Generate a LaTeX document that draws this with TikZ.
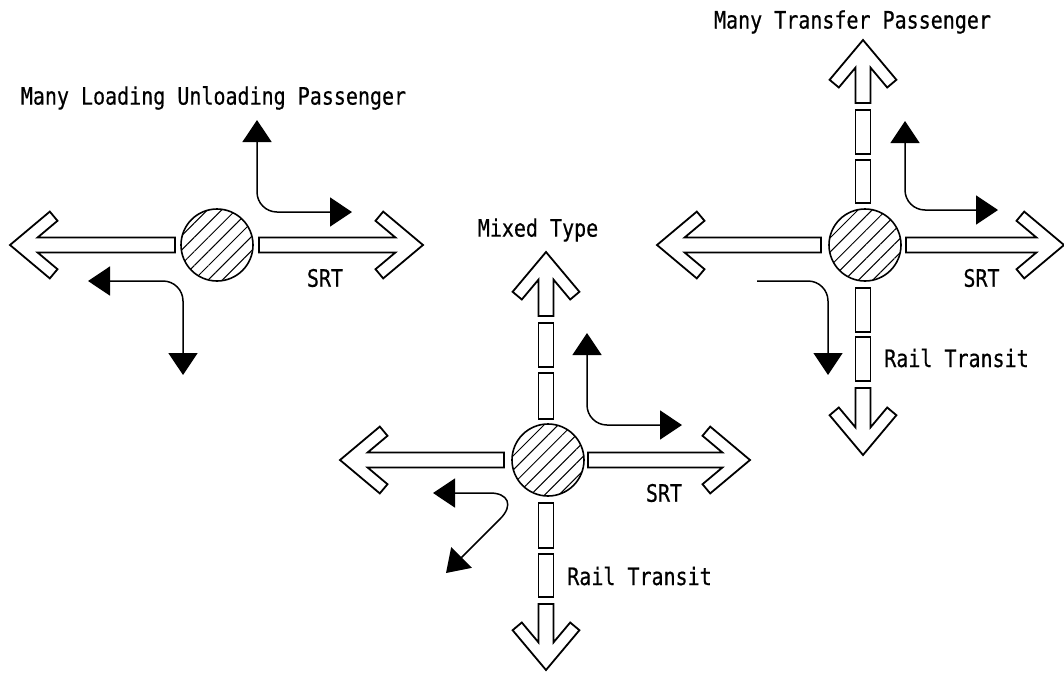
\documentclass[tikz,border=0pt]{standalone}
\usepackage{fontspec}
\usepackage{graphicx}
\newfontfamily\labelfont[FakeBold=0.6]{DejaVu Sans Mono}
\usetikzlibrary{arrows.meta,patterns.meta}
\newcommand\lbl[1]{\scalebox{1}[1.2]{\labelfont\fontsize{20}{20}\selectfont #1}}
% open arrow: cx, cy, angle, shaft start, tip distance
\newcommand\bigarrow[5]{%
\begin{scope}[shift={(#1,#2)},rotate=#3]
\draw[bigarr] (#4,7.5) -- ({#5-27.6},7.5) -- ({#5-47.5},24.2) -- ({#5-39.8},33.4) -- (#5,0)
 -- ({#5-39.8},-33.4) -- ({#5-47.5},-24.2) -- ({#5-27.6},-7.5) -- (#4,-7.5) -- cycle;
\end{scope}}
% rail segment: cx, cy, angle, from, to
\newcommand\railseg[5]{%
\begin{scope}[shift={(#1,#2)},rotate=#3]
\draw[bigarr] (#4,7.5) rectangle (#5,-7.5);
\end{scope}}
\begin{document}
\begin{tikzpicture}[x=1pt,y=-1pt,
  bigarr/.style={line width=1.8pt},
  hub/.style={circle,draw,line width=1.6pt,minimum size=72pt,inner sep=0pt,
    pattern={Lines[angle=45,distance=10pt,line width=1pt]}},
  smallarr/.style={line width=1.5pt,rounded corners=20pt,
    {Triangle[length=22pt,width=29pt]}-{Triangle[length=22pt,width=29pt]}},
  smallend/.style={line width=1.5pt,rounded corners=20pt,
    -{Triangle[length=22pt,width=29pt]}},
  txt/.style={inner sep=0pt}]
\useasboundingbox (0,0) rectangle (1064,672);

% ---------- Diagram 1 ----------
\bigarrow{217}{245}{0}{42}{206}
\bigarrow{217}{245}{180}{42}{207}
\node[hub] (c1) at (217,245) {};
\draw[smallarr] (257,120) |- (352,212);
\draw[smallarr] (88,281) -| (183,375);
\node[txt] (t1) at (213.5,98) {\lbl{Many Loading Unloading Passenger}};
\node[txt] (s1) at (325,278) {\lbl{SRT}};

% ---------- Diagram 2 ----------
\bigarrow{546}{460}{0}{42}{204}
\bigarrow{546}{460}{180}{42}{206}
\bigarrow{546}{460}{90}{144}{208}
\railseg{546}{460}{90}{41}{87}
\railseg{546}{460}{90}{93}{137}
\railseg{546}{460}{-90}{43}{88}
\railseg{546}{460}{-90}{94}{137}
\bigarrow{546}{460}{-90}{144}{210}
\node[hub] (c2) at (548,460) {};
\draw[smallarr] (587,333) |- (682,425);
\draw[line width=1.5pt,{Triangle[length=22pt,width=29pt]}-{Triangle[length=22pt,width=29pt]}]
  (433,493) -- (490,493) .. controls (508,493) and (514,505) .. (500,519) -- (446,573);
\node[txt] (t2) at (538,230) {\lbl{Mixed Type}};
\node[txt] (s2) at (664,493) {\lbl{SRT}};
\node[txt] (r2) at (639.5,576) {\lbl{Rail Transit}};

% ---------- Diagram 3 ----------
\bigarrow{863}{245}{0}{43}{201}
\bigarrow{863}{245}{180}{42}{206}
\bigarrow{863}{245}{90}{142}{205}
\railseg{863}{245}{90}{42}{85}
\railseg{863}{245}{90}{91}{135}
\railseg{863}{245}{-90}{43}{87}
\railseg{863}{245}{-90}{92}{136}
\bigarrow{863}{245}{-90}{143}{210}
\node[hub] (c3) at (865,245) {};
\draw[smallarr] (905,121) |- (998,210);
\draw[smallend] (757,281) -| (828,375);
\node[txt] (t3) at (852.5,22) {\lbl{Many Transfer Passenger}};
\node[txt] (s3) at (981.5,278) {\lbl{SRT}};
\node[txt] (r3) at (956.5,358) {\lbl{Rail Transit}};
\end{tikzpicture}
\end{document}
